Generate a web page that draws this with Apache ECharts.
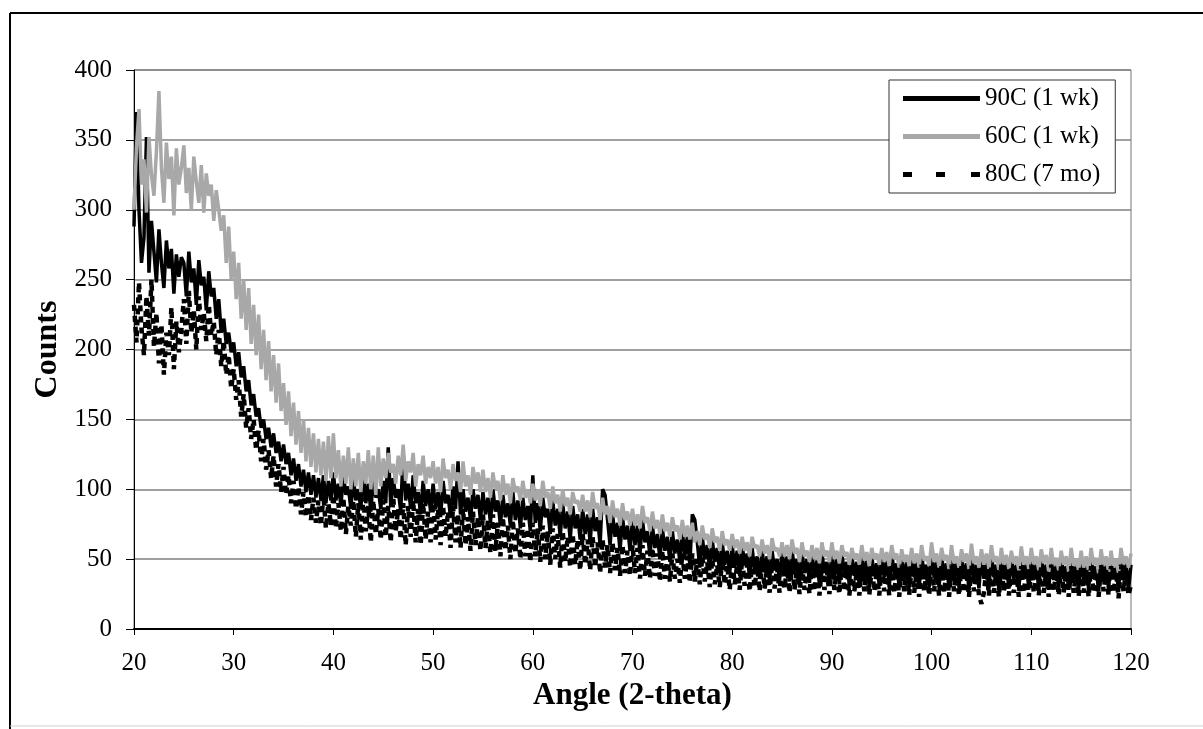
<!DOCTYPE html>
<html>
<head>
<meta charset="utf-8">
<script src="https://cdn.jsdelivr.net/npm/echarts@6/dist/echarts.min.js"></script>
<style>
html,body{margin:0;padding:0;background:#fff;}
#chart{width:1203px;height:729px;}
</style>
</head>
<body>
<div id="chart"></div>
<script>
// Sampling grid for the angle axis (2-theta), 20 to 120 in 0.25 degree steps
var angleStart = 20, angleStep = 0.25;
var seriesNames = ['90C (1 wk)', '60C (1 wk)', '80C (7 mo)'];
var xTicks = [20, 30, 40, 50, 60, 70, 80, 90, 100, 110, 120];
var yTicks = [0, 50, 100, 150, 200, 250, 300, 350, 400];

// 90C (1 wk) counts (one row = 5 degrees)
var c90 = [
288,370,300,262,280,352,255,292,270,248,286,262,244,278,258,272,240,268,252,266,
262,238,270,248,258,232,264,246,252,228,256,238,244,222,236,212,222,204,212,198,
205,188,198,180,188,170,178,160,168,152,158,144,150,136,144,130,140,126,134,120,
132,118,126,110,122,106,118,102,114,98,112,96,110,94,108,92,110,90,106,92,
112,92,104,88,110,96,102,86,108,92,100,86,112,90,104,84,108,94,100,86,
106,90,130,88,108,94,100,84,126,92,104,86,110,90,98,82,106,88,100,84,
104,86,98,80,106,90,96,80,102,86,120,82,100,84,94,78,100,86,96,78,
98,82,94,76,100,84,92,74,96,80,90,74,98,78,92,72,94,78,88,70,
110,76,90,70,94,80,86,68,92,74,86,66,90,72,84,64,88,72,82,64,
86,68,82,62,86,70,80,60,100,96,78,60,82,66,76,56,80,64,74,56,
78,60,74,54,78,62,70,52,74,58,68,50,72,56,66,48,70,54,64,48,
70,52,66,46,82,78,62,44,66,50,60,42,64,48,58,40,62,46,56,40,
60,44,56,38,60,46,54,36,58,42,52,36,56,42,52,35,56,42,50,35,
56,40,52,34,57,42,50,33,55,40,50,33,54,38,49,32,55,40,48,32,
55,38,50,32,54,40,48,31,53,38,48,31,54,37,49,30,52,38,47,31,
53,37,49,30,55,39,47,30,52,36,48,30,53,37,48,29,54,38,46,30,
56,37,48,30,53,38,47,29,55,36,48,30,52,37,47,28,54,36,46,29,
52,36,48,29,54,37,46,28,53,36,47,29,52,36,46,28,54,37,47,29,
54,36,47,28,52,37,46,28,53,35,47,29,52,36,45,28,53,36,46,28,
52,35,47,28,53,36,45,27,52,35,46,28,53,36,45,27,54,36,47,28,
46
];

// 60C (1 wk) counts
var c60 = [
300,345,372,318,336,298,352,325,310,342,385,330,305,348,322,338,296,344,318,330,
346,312,330,300,338,320,305,332,298,326,310,318,292,314,300,285,296,262,288,250,
270,236,262,222,250,214,244,204,232,196,225,186,214,178,206,170,196,162,190,156,
176,146,170,138,162,132,156,126,150,120,144,116,140,112,136,110,134,106,138,108,
140,108,128,102,124,104,130,100,122,102,126,98,120,104,128,100,124,96,130,102,
122,108,126,112,118,104,124,110,132,106,120,112,126,102,118,110,124,104,116,108,
120,104,116,98,122,108,114,100,118,106,112,98,120,102,110,96,116,104,112,98,
114,98,108,94,112,100,106,92,110,96,104,90,108,98,102,92,106,94,100,90,
104,92,100,88,106,94,98,86,102,90,96,84,100,88,94,82,98,90,92,84,
96,84,92,80,98,86,90,78,94,82,88,76,92,80,86,74,90,78,84,74,
86,74,82,72,88,76,80,70,84,72,78,68,82,70,76,66,80,70,74,64,
78,66,74,64,76,62,70,60,74,64,68,58,72,62,66,56,70,60,64,56,
68,58,64,54,66,56,62,52,66,58,60,52,64,54,60,50,65,56,58,52,
62,52,60,50,64,54,58,48,62,52,56,48,60,50,58,47,62,52,56,48,
62,50,56,47,60,52,55,46,58,50,54,46,60,49,55,45,58,50,54,46,
58,48,55,45,60,50,54,44,57,48,53,45,58,47,54,44,60,49,52,45,
62,48,54,44,58,49,53,43,60,47,52,44,57,48,54,43,61,47,52,44,
57,46,54,43,60,48,52,42,58,46,53,43,56,47,52,42,59,46,52,43,
58,46,52,42,57,47,53,41,58,45,51,42,56,46,52,41,58,45,50,42,
56,44,52,41,58,46,51,40,57,45,52,41,56,44,50,40,58,46,52,44,
54
];

// 80C (7 mo) counts
var c80 = [
232,205,248,215,196,238,210,250,202,226,190,218,182,212,196,230,186,220,198,214,
236,204,242,212,228,200,238,214,226,206,232,210,220,196,214,188,206,182,196,172,
186,164,178,152,168,144,158,136,150,128,142,120,136,114,128,108,124,102,118,98,
116,96,110,90,106,86,102,82,98,80,96,78,94,76,92,74,96,72,90,74,
96,72,90,70,94,68,88,74,92,66,90,64,94,70,88,62,92,68,86,64,
92,66,88,62,94,70,86,64,90,60,88,66,92,62,86,60,90,64,84,62,
90,64,86,60,88,66,84,58,88,62,82,58,86,60,80,56,84,60,80,56,
82,58,78,54,82,56,76,52,80,56,74,50,78,54,72,50,76,52,72,48,
76,52,72,48,74,50,70,46,72,50,68,44,70,48,66,44,68,46,64,42,
68,46,64,42,66,44,62,40,64,44,60,40,62,42,58,38,60,40,56,38,
60,40,58,36,60,38,56,36,58,38,54,34,56,36,52,34,54,36,50,33,
54,36,52,33,54,34,50,32,52,34,48,30,50,32,46,30,50,32,46,28,
50,32,46,28,50,31,46,27,48,30,45,27,48,29,44,26,47,29,44,26,
48,29,44,26,47,28,44,25,46,28,43,25,46,27,43,24,46,28,42,25,
47,28,43,25,46,27,42,24,45,27,42,24,46,27,43,24,45,27,42,24,
46,27,42,24,45,26,42,23,46,27,43,24,45,26,41,23,46,27,42,24,
46,27,43,24,45,26,42,23,46,27,42,24,45,26,41,23,46,27,42,24,
18,26,43,24,45,26,42,23,46,27,42,24,45,26,41,23,45,26,42,23,
46,26,42,24,45,26,41,23,46,27,42,24,45,26,41,23,45,26,42,23,
45,26,42,23,45,26,41,23,46,27,42,24,45,26,41,22,46,27,42,24,
32
];

function pairs(vals){
  var out = [];
  for (var i = 0; i < vals.length; i++) out.push([angleStart + i * angleStep, vals[i]]);
  return out;
}

var font = 'Liberation Serif';
var chart = echarts.init(document.getElementById('chart'), null, {renderer:'canvas'});
chart.setOption({
  animation:false,
  backgroundColor:'#fff',
  graphic:[
    {type:'line', z:-1, shape:{x1:10, y1:13, x2:1203, y2:13}, style:{stroke:'#000', lineWidth:2}},
    {type:'line', z:-1, shape:{x1:10, y1:13, x2:10, y2:729}, style:{stroke:'#000', lineWidth:2}},
    {type:'line', z:-1, shape:{x1:10, y1:726, x2:1203, y2:726}, style:{stroke:'#d0d0d0', lineWidth:1}}
  ],
  grid:{left:134, right:72, top:70, bottom:100, show:true, borderColor:'#777', borderWidth:1, backgroundColor:'#fff'},
  legend:{
    data:[
      {name:seriesNames[0], icon:'rect', itemStyle:{color:'#000'}},
      {name:seriesNames[1], icon:'rect', itemStyle:{color:'#a8a8a8'}},
      {name:seriesNames[2], icon:'path://M0,0H9V5H0Z M33,0H42V5H33Z M68,0H77V5H68Z', itemStyle:{color:'#000'}}
    ],
    orient:'vertical',
    left:889, top:80,
    padding:[6,15,6,14],
    itemWidth:77, itemHeight:5, itemGap:13,
    borderColor:'#333', borderWidth:1,
    backgroundColor:'#fff',
    textStyle:{fontFamily:font, fontSize:25, color:'#000', padding:[0,0,0,0]}
  },
  xAxis:{
    type:'value', min:20, max:120, interval:10,
    name:'Angle (2-theta)', nameLocation:'middle', nameGap:50,
    nameTextStyle:{fontFamily:font, fontSize:31, fontWeight:'bold', color:'#000'},
    axisLine:{lineStyle:{color:'#000', width:2}},
    axisTick:{show:true, length:6, lineStyle:{color:'#000'}},
    axisLabel:{fontFamily:font, fontSize:25, color:'#000', margin:22,
      formatter:function(v){return xTicks.indexOf(v) >= 0 ? String(v) : '';}},
    splitLine:{show:false}
  },
  yAxis:{
    type:'value', min:0, max:400, interval:50,
    name:'Counts', nameLocation:'middle', nameGap:70,
    nameTextStyle:{fontFamily:font, fontSize:32, fontWeight:'bold', color:'#000'},
    axisLine:{show:true, lineStyle:{color:'#000', width:1}},
    axisTick:{show:true, length:8, lineStyle:{color:'#000'}},
    axisLabel:{fontFamily:font, fontSize:25, color:'#000', margin:22,
      formatter:function(v){return yTicks.indexOf(v) >= 0 ? String(v) : '';}},
    splitLine:{show:true, lineStyle:{color:'#808080', width:1.5}}
  },
  series:[
    {name:seriesNames[0], type:'line', data:pairs(c90), showSymbol:false, symbol:'none',
      lineStyle:{color:'#000', width:3.5}, itemStyle:{color:'#000'}, z:2},
    {name:seriesNames[1], type:'line', data:pairs(c60), showSymbol:false, symbol:'none',
      lineStyle:{color:'#a8a8a8', width:3.5}, itemStyle:{color:'#a8a8a8'}, z:3},
    {name:seriesNames[2], type:'line', data:pairs(c80), showSymbol:false, symbol:'none',
      lineStyle:{color:'#000', width:4.5, type:[6,5]}, itemStyle:{color:'#000'}, z:4}
  ]
});
</script>
</body>
</html>
